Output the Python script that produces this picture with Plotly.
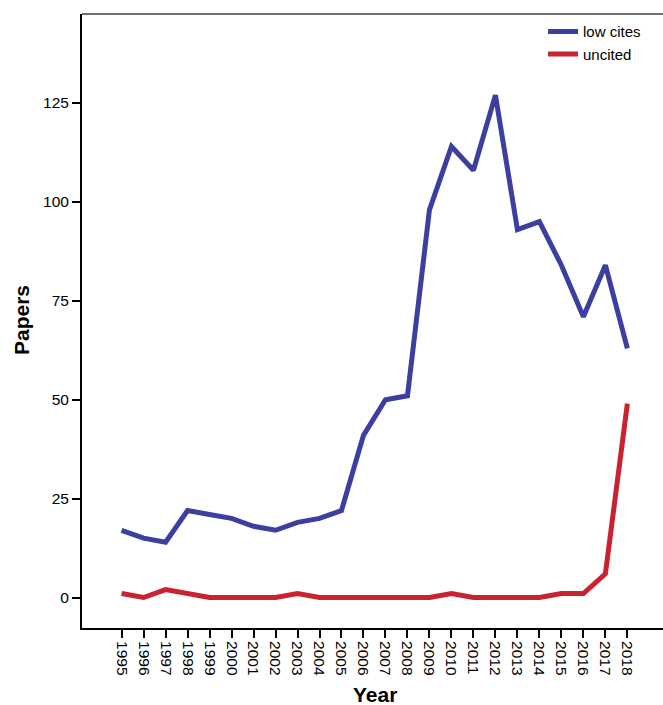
import plotly.graph_objects as go

years = list(range(1995, 2019))
low_cites = [17, 15, 14, 22, 21, 20, 18, 17, 19, 20, 22, 41, 50, 51, 98, 114, 108, 127, 93, 95, 84, 71, 84, 63]
uncited = [1, 0, 2, 1, 0, 0, 0, 0, 1, 0, 0, 0, 0, 0, 0, 1, 0, 0, 0, 0, 1, 1, 6, 49]
y_ticks = [0, 25, 50, 75, 100, 125]

BLUE = "#3A3FA0"
RED = "#C8232E"
FONT = "Liberation Sans, Arial, sans-serif"

fig = go.Figure()
fig.add_trace(go.Scatter(x=years, y=low_cites, mode="lines", name="low cites",
                         line=dict(color=BLUE, width=5)))
fig.add_trace(go.Scatter(x=years, y=uncited, mode="lines", name="uncited",
                         line=dict(color=RED, width=5)))

fig.update_layout(
    width=663, height=705,
    margin=dict(l=82, r=0, t=14, b=77),
    paper_bgcolor="white", plot_bgcolor="white",
    font=dict(family=FONT, color="black", size=15.5),
    showlegend=True,
    legend=dict(x=0.7935, xanchor="left", y=0.998, yanchor="top",
                bgcolor="rgba(0,0,0,0)", font=dict(size=15),
                tracegroupgap=0, itemwidth=30),
    xaxis=dict(
        range=[1993.2, 2019.62], tickmode="array", tickvals=years,
        ticktext=[str(y) for y in years], tickangle=90,
        showgrid=False, zeroline=False, showline=True, linecolor="black", linewidth=2,
        ticks="outside", ticklen=8, tickwidth=1.5, tickcolor="black",
        tickfont=dict(size=15.5),
    ),
    yaxis=dict(
        range=[-7.7, 147.5], tickmode="array", tickvals=y_ticks,
        showgrid=False, zeroline=False, showline=True, linecolor="black", linewidth=2,
        ticks="outside", ticklen=8, tickwidth=1.5, tickcolor="black",
        tickfont=dict(size=15.5),
    ),
    shapes=[dict(type="line", xref="paper", yref="paper", x0=0, x1=1, y0=1, y1=1,
                 line=dict(color="#707070", width=2))],
    annotations=[
        dict(text="<b>Year</b>", xref="paper", yref="paper", x=0.5043, y=-0.1075,
             xanchor="center", yanchor="middle", showarrow=False, font=dict(size=21)),
        dict(text="<b>Papers</b>", xref="paper", yref="paper", x=-0.105, y=0.5016,
             xanchor="center", yanchor="middle", showarrow=False, textangle=-90,
             font=dict(size=21)),
    ],
)

fig.write_html("out.html", config={"displayModeBar": False},
               post_script="document.body.style.margin='0';document.body.style.overflow='hidden';")
